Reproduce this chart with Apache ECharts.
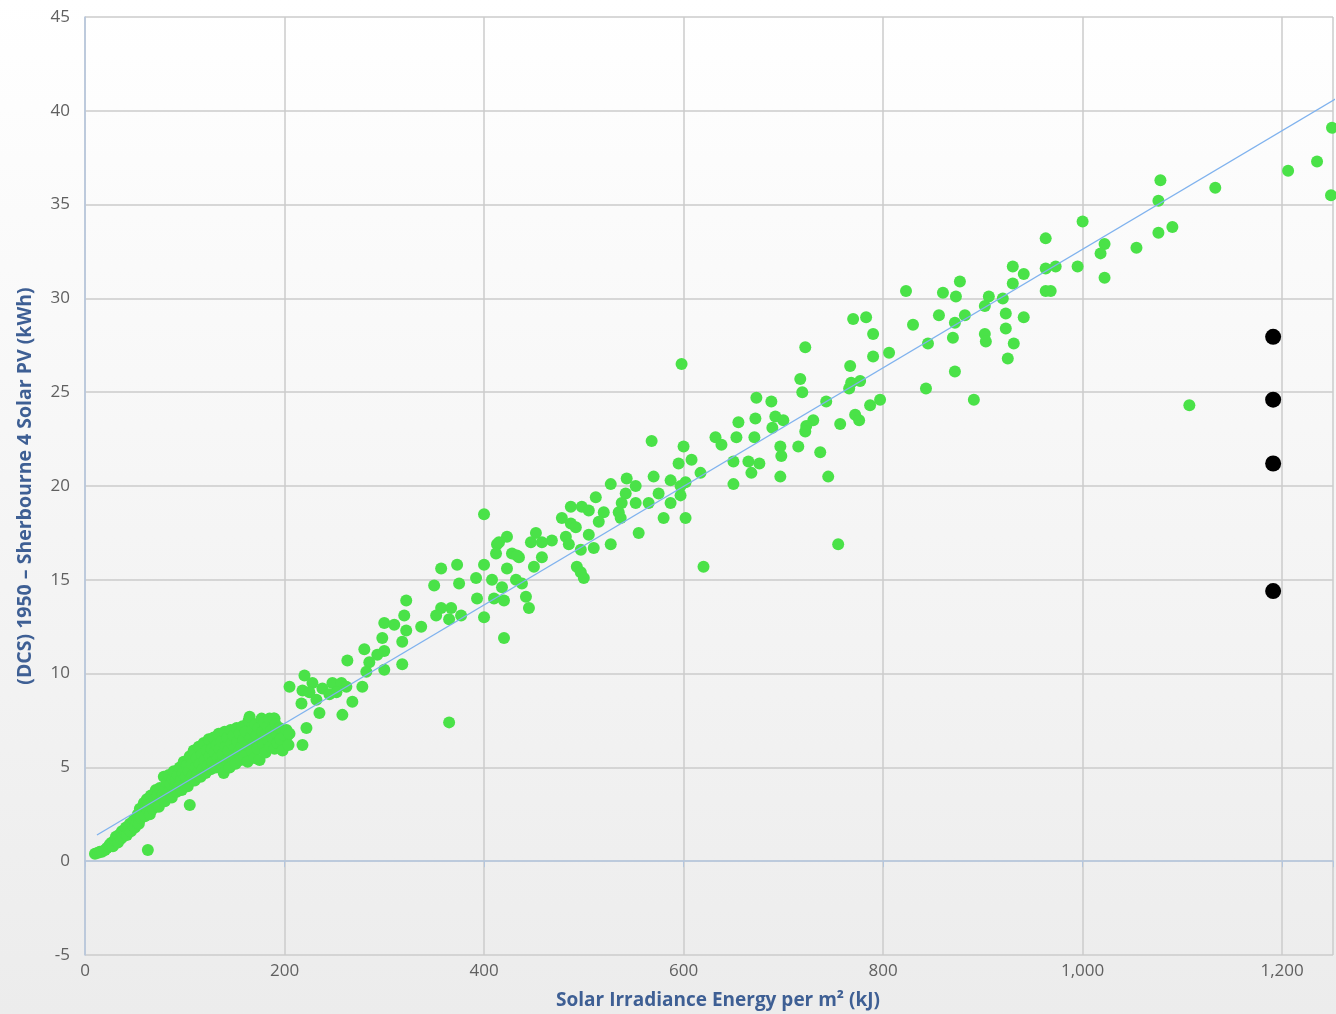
<!DOCTYPE html>
<html>
<head>
<meta charset="utf-8">
<script src="https://cdn.jsdelivr.net/npm/echarts@6/dist/echarts.min.js"></script>
<style>
html,body{margin:0;padding:0;background:#fff;}
#chart{width:1336px;height:1014px;}
</style>
</head>
<body>
<div id="chart"></div>
<script>
// Scatter points: [irradiance kJ/m², kWh]
var pointsHigh = [
[1250,39.1],[1235,37.3],[1206,36.8],[1249,35.5],[1133,35.9],[1078,36.3],[1076,35.2],[1090,33.8],[1076,33.5],[1054,32.7],
[1022,32.9],[1018,32.4],[1022,31.1],[1000,34.1],[995,31.7],[1107,24.3],[973,31.7],[963,33.2],[963,31.6],[963,30.4],
[968,30.4],[930,31.7],[941,31.3],[930,30.8],[920,30.0],[906,30.1],[902,29.6],[923,29.2],[941,29.0],[923,28.4],
[931,27.6],[925,26.8],[902,28.1],[903,27.7],[882,29.1],[877,30.9],[873,30.1],[872,28.7],[870,27.9],[872,26.1],
[860,30.3],[856,29.1],[830,28.6],[823,30.4],[845,27.6],[843,25.2],[891,24.6]
];
var pointsMidHigh = [
[783,29.0],[770,28.9],[790,28.1],[790,26.9],[806,27.1],[767,26.4],[768,25.5],[777,25.6],[766,25.2],[797,24.6],
[787,24.3],[772,23.8],[776,23.5],[757,23.3],[743,24.5],[722,27.4],[717,25.7],[719,25.0],[730,23.5],[723,23.2],
[722,22.9],[715,22.1],[737,21.8],[745,20.5],[755,16.9],[673,24.7],[688,24.5],[672,23.6],[692,23.7],[700,23.5],
[689,23.1],[655,23.4],[671,22.6],[653,22.6],[632,22.6],[638,22.2],[697,22.1],[698,21.6],[650,21.3],[665,21.3],
[676,21.2],[668,20.7],[697,20.5],[650,20.1],[617,20.7],[608,21.4],[620,15.7]
];
var pointsMid = [
[598,26.5],[568,22.4],[600,22.1],[595,21.2],[602,20.2],[587,20.3],[570,20.5],[597,20.0],[575,19.6],[587,19.1],
[597,19.5],[580,18.3],[602,18.3],[555,17.5],[527,20.1],[543,20.4],[552,20.0],[542,19.6],[538,19.1],[552,19.1],
[565,19.1],[535,18.6],[537,18.3],[512,19.4],[520,18.6],[515,18.1],[498,18.9],[487,18.9],[505,18.7],[478,18.3],
[487,18.0],[492,17.8],[505,17.4],[527,16.9],[510,16.7],[497,16.6],[482,17.3],[485,16.9],[468,17.1],[452,17.5],
[447,17.0],[458,17.0],[423,17.3],[413,16.9],[412,16.4],[428,16.4],[435,16.2],[458,16.2],[450,15.7],[493,15.7],
[497,15.4],[500,15.1],[400,15.8],[400,18.5],[373,15.8],[357,15.6],[415,17.0],[433,16.3],[423,15.6],[392,15.1],
[375,14.8],[350,14.7],[408,15.0],[418,14.6],[432,15.0],[438,14.8],[442,14.1],[445,13.5],[420,13.9],[410,14.0],
[393,14.0],[400,13.0],[420,11.9]
];
var pointsLowMid = [
[322,13.9],[320,13.1],[357,13.5],[352,13.1],[367,13.5],[377,13.1],[365,12.9],[300,12.7],[310,12.6],[322,12.3],
[337,12.5],[298,11.9],[318,11.7],[280,11.3],[300,11.2],[293,11.0],[318,10.5],[285,10.6],[300,10.2],[263,10.7],
[282,10.1],[278,9.3],[365,7.4],
[220,9.9],[228,9.5],[205,9.3],[248,9.5],[257,9.5],[262,9.3],[252,9.0],[218,9.1],[225,9.0],[238,9.2],[245,8.9],
[232,8.6],[217,8.4],[235,7.9],[268,8.5],[258,7.8],[190,7.6],[193,6.9],[222,7.1],[203,6.7],[218,6.2]
];
var pointsLow = [
[10,0.4],[13,0.45],[15,0.5],[17,0.5],[20,0.6],[22,0.7],[24,0.8],[25,0.9],[27,1.0],[28,0.8],[30,1.1],[31,1.3],
[33,1.0],[34,1.4],[36,1.2],[37,1.6],[38,1.3],[40,1.5],[41,1.8],[42,1.4],[44,1.7],[45,2.0],[46,1.6],[48,1.9],
[49,2.2],[50,1.8],[52,2.1],[53,2.5],[54,2.0],[55,2.8],[56,2.3],[58,2.6],[59,3.1],[60,2.4],[61,2.9],[62,3.3],
[63,2.7],[63,0.6],[64,3.0],[65,2.5],[66,3.5],[67,3.1],[68,2.8],[70,3.3],[71,3.8],[72,3.0],[73,3.5],[74,2.9],
[75,3.9],[76,3.3],[78,3.6],[79,4.5],[80,3.2],[81,3.9],[82,4.2],[83,3.5],[84,4.6],[85,3.8],[86,4.1],[87,3.4],
[88,4.4],[89,4.8],[90,3.9],[91,4.3],[92,3.7],[93,4.6],[94,4.0],[95,5.0],[96,4.3],[97,3.8],[98,4.7],[99,5.3],
[100,4.1],[101,4.5],[102,5.1],[103,4.0],[104,4.8],[105,5.6],[105,3.0],[106,4.4],[107,5.2],[108,4.6],[109,5.9],
[110,4.3],[111,5.0],[112,5.5],[113,4.7],[114,6.1],[115,5.2],[116,4.5],[117,5.7],[118,4.9],[119,6.3],[120,5.4],
[121,4.7],[122,5.9],[123,5.1],[124,6.5],[125,5.6],[126,4.9],[127,6.0],[128,5.3],[129,6.6],[130,5.8],[131,5.0],
[132,6.2],[133,5.5],[134,6.8],[135,6.0],[136,5.2],[137,6.4],[138,5.7],[139,4.7],[140,6.9],[141,6.1],[142,5.4],
[143,6.6],[144,5.9],[145,5.0],[146,7.0],[147,6.3],[148,5.6],[149,6.7],[150,6.0],[151,5.2],[152,7.1],[153,6.4],
[154,5.8],[155,6.8],[156,5.4],[157,6.1],[158,7.2],[159,6.5],[160,5.6],[161,6.9],[162,6.2],[163,5.3],[164,7.5],
[165,7.7],[166,6.6],[167,5.9],[168,7.0],[169,6.3],[170,5.5],[171,7.3],[172,6.7],[173,6.0],[174,7.1],[175,5.4],
[176,6.5],[177,7.6],[178,6.9],[179,6.2],[180,7.4],[181,5.8],[182,6.8],[183,7.2],[184,6.4],[185,7.6],[186,6.1],
[187,7.0],[188,6.6],[189,7.6],[190,6.0],[191,7.3],[192,6.8],[193,6.3],[195,7.1],[196,6.5],[198,5.9],[200,6.7],
[202,7.0],[204,6.2],[205,6.8]
];
// Black markers
var blackX = [1191, 1191, 1191, 1191];
var blackY = [27.95, 24.6, 21.2, 14.4];
// Trend line
var trendX = [12, 1300];
var trendY = [1.4, 42.1];
// Axes
var yMin = -5, yMax = 45, yStep = 5;
var xMin = 0, xMax = 1251, xStep = 200;
var xTitle = 'Solar Irradiance Energy per m² (kJ)';
var yTitle = '(DCS) 1950 – Sherbourne 4 Solar PV (kWh)';

var allPoints = pointsHigh.concat(pointsMidHigh, pointsMid, pointsLowMid, pointsLow);
var blackPts = blackX.map(function(x, i){ return [x, blackY[i]]; });
var trendPts = trendX.map(function(x, i){ return [x, trendY[i]]; });

var chart = echarts.init(document.getElementById('chart'), null, {renderer:'canvas'});
var fontFam = '"Open Sans", "DejaVu Sans", sans-serif';
chart.setOption({
  animation: false,
  backgroundColor: new echarts.graphic.LinearGradient(0, 0, 0, 1, [
    {offset: 0, color: '#ffffff'},
    {offset: 1, color: '#ececec'}
  ]),
  grid: {left: 85, top: 17, right: 0, height: 938, containLabel: false},
  xAxis: {
    type: 'value', min: xMin, max: xMax, interval: xStep,
    axisLine: {show: true, lineStyle: {color: '#b4c6de', width: 1.5}},
    axisTick: {show: true, length: 6, lineStyle: {color: '#b4c6de'}},
    splitLine: {show: true, lineStyle: {color: '#cbcbcb', width: 1.5}},
    axisLabel: {margin: 8, color: '#606060', fontSize: 17, fontFamily: fontFam,
      formatter: function(v){ return (v % xStep === 0) ? v.toLocaleString('en-US') : ''; }}
  },
  yAxis: {
    type: 'value', min: yMin, max: yMax, interval: yStep,
    name: yTitle, nameLocation: 'middle', nameGap: 50,
    nameTextStyle: {color: '#3e5f94', fontSize: 19.5, fontWeight: 'bold', fontFamily: fontFam},
    axisLine: {show: true, lineStyle: {color: '#b4c6de', width: 1.5}},
    axisTick: {show: false},
    splitLine: {show: true, lineStyle: {color: '#cbcbcb', width: 1.5}},
    axisLabel: {margin: 15, color: '#606060', fontSize: 17, fontFamily: fontFam}
  },
  graphic: [{
    type: 'text',
    style: {text: xTitle, x: 718, y: 1001, textAlign: 'center', textVerticalAlign: 'middle',
      fill: '#3e5f94', font: 'bold 19px ' + fontFam}
  }],
  series: [
    {type: 'scatter', data: allPoints, symbolSize: 12, itemStyle: {color: '#4ae248', opacity: 1}, z: 2},
    {type: 'line', data: trendPts, showSymbol: false, symbol: 'none', lineStyle: {color: '#7fb2ee', width: 1.3}, z: 3},
    {type: 'scatter', data: blackPts, symbolSize: 16, itemStyle: {color: '#000000', opacity: 1}, z: 4}
  ]
});
</script>
</body>
</html>
